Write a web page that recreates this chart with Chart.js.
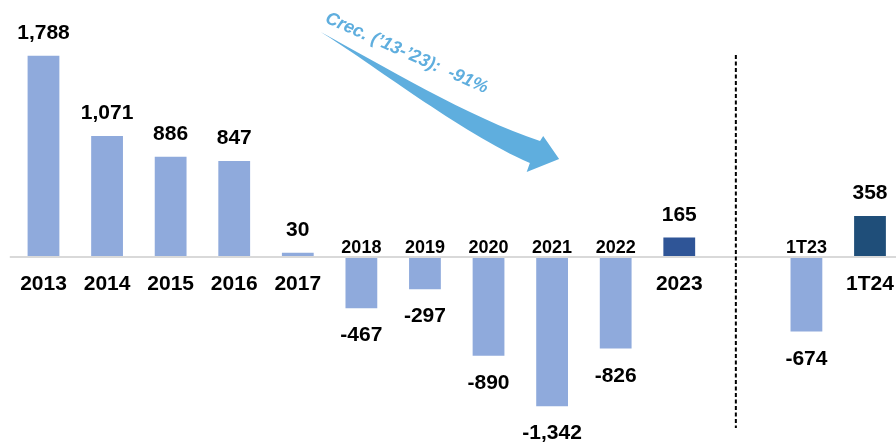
<!DOCTYPE html>
<html>
<head>
<meta charset="utf-8">
<script src="https://cdn.jsdelivr.net/npm/chart.js@4.4.1/dist/chart.umd.min.js"></script>
<style>
  html, body { margin: 0; padding: 0; background: #ffffff; overflow: hidden; }
  canvas { display: block; }
</style>
</head>
<body>
<canvas id="c" width="896" height="442"></canvas>
<script>
// ---- data ----
const categories = ['2013','2014','2015','2016','2017','2018','2019','2020','2021','2022','2023','','1T23','1T24'];
const values     = [1788, 1071, 886, 847, 30, -467, -297, -890, -1342, -826, 165, null, -674, 358];
const growthLabel = 'Crec. (\u201913-\u201923):  -91%';
const bigLabels = ['2013','2014','2015','2016','2017','2023','1T24'];

// ---- styles ----
const LIGHT = '#8FAADC';
const DARK1 = '#2F5597';
const DARK2 = '#1F4E79';
const ARROW = '#5FAEDE';
const FONT = '"Liberation Sans", Arial, sans-serif';

const points = [];
values.forEach((v, i) => { if (v !== null) points.push({ x: i, y: v, label: categories[i] }); });
const colors = points.map(p => p.label === '2023' ? DARK1 : (p.label === '1T24' ? DARK2 : LIGHT));

function fmt(v) { return v.toLocaleString('en-US'); }

const overlay = {
  id: 'overlay',
  afterDatasetsDraw(chart) {
    const { ctx, scales: { x, y } } = chart;
    const y0 = y.getPixelForValue(0);
    ctx.save();

    // zero line
    ctx.strokeStyle = '#D9D9D9';
    ctx.lineWidth = 2;
    ctx.beginPath();
    ctx.moveTo(x.getPixelForValue(-0.53), y0 + 1);
    ctx.lineTo(chart.width, y0 + 1);
    ctx.stroke();

    // dashed separator
    ctx.strokeStyle = '#000000';
    ctx.lineWidth = 2;
    ctx.setLineDash([4, 2.5]);
    const xs = x.getPixelForValue(10.89);
    ctx.beginPath();
    ctx.moveTo(xs, y.getPixelForValue(1794));
    ctx.lineTo(xs, y.getPixelForValue(-1535));
    ctx.stroke();
    ctx.setLineDash([]);

    // labels
    const meta = chart.getDatasetMeta(0);
    ctx.fillStyle = '#000000';
    ctx.textAlign = 'center';
    ctx.textBaseline = 'alphabetic';
    meta.data.forEach((bar, i) => {
      const p = chart.data.datasets[0].data[i];
      const v = p.y;
      ctx.font = 'bold 21px ' + FONT;
      if (v >= 0) {
        ctx.fillText(fmt(v), bar.x, bar.y - 17);
      } else {
        ctx.fillText(fmt(v), bar.x, bar.y + 33);
      }
      if (bigLabels.includes(p.label)) {
        ctx.font = 'bold 21px ' + FONT;
        ctx.fillText(p.label, bar.x, y0 + 34);
      } else {
        ctx.font = 'bold 18px ' + FONT;
        ctx.fillText(p.label, bar.x, y0 - 3);
      }
    });

    // curved arrow (data coordinates)
    const P = (a, b) => [x.getPixelForValue(a), y.getPixelForValue(b)];
    ctx.fillStyle = ARROW;
    ctx.beginPath();
    let q = P(4.36, 2000); ctx.moveTo(q[0], q[1]);
    let c1 = P(5.29, 1714), c2 = P(6.71, 1232), e = P(7.81, 1027);
    ctx.bezierCurveTo(c1[0], c1[1], c2[0], c2[1], e[0], e[1]);
    q = P(7.86, 1071); ctx.lineTo(q[0], q[1]);
    q = P(8.11, 866);  ctx.lineTo(q[0], q[1]);
    q = P(7.60, 750);  ctx.lineTo(q[0], q[1]);
    q = P(7.65, 830);  ctx.lineTo(q[0], q[1]);
    c1 = P(6.55, 1107); c2 = P(5.13, 1732); e = P(4.36, 2000);
    ctx.bezierCurveTo(c1[0], c1[1], c2[0], c2[1], e[0], e[1]);
    ctx.closePath();
    ctx.fill();

    // growth text
    const t = P(5.68, 1770);
    ctx.translate(t[0], t[1]);
    ctx.rotate(24 * Math.PI / 180);
    ctx.font = 'italic bold 18px ' + FONT;
    ctx.fillStyle = ARROW;
    ctx.textAlign = 'center';
    ctx.fillText(growthLabel, 0, 0);
    ctx.restore();
  }
};

new Chart(document.getElementById('c'), {
  type: 'bar',
  data: {
    datasets: [{
      data: points,
      backgroundColor: colors,
      borderWidth: 0,
      barPercentage: 0.5,
      categoryPercentage: 1.0
    }]
  },
  options: {
    responsive: false,
    animation: false,
    layout: { padding: 0 },
    plugins: { legend: { display: false }, tooltip: { enabled: false } },
    scales: {
      x: { type: 'linear', offset: false, min: -0.684, max: 13.409, display: false, grid: { display: false } },
      y: { min: -1660, max: 2285, display: false, grid: { display: false } }
    }
  },
  plugins: [overlay]
});
</script>
</body>
</html>
